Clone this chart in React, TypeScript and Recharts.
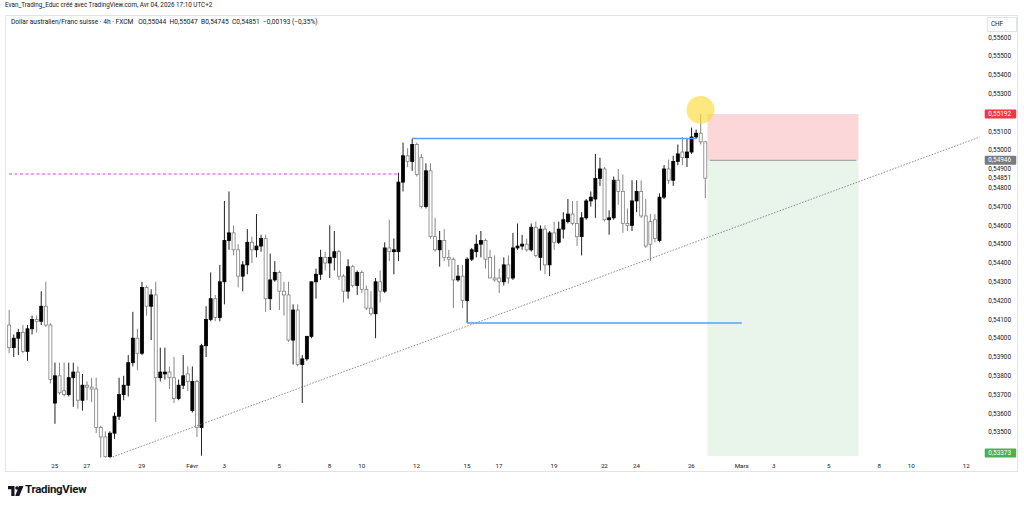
import React from 'react';
import {
  Bar,
  ComposedChart,
  ReferenceArea,
  ReferenceDot,
  ReferenceLine,
  XAxis,
  YAxis,
} from 'recharts';

// AUD/CHF 4h candles (oldest first)
const opens = [
  0.5407, 0.5395, 0.54, 0.5403, 0.5393, 0.5405, 0.541, 0.5409, 0.5417, 0.5407,
  0.53655, 0.538, 0.5372, 0.537, 0.5379, 0.5382, 0.5367, 0.5375, 0.5374, 0.5373,
  0.53525, 0.53475, 0.5337, 0.53495, 0.53585, 0.537, 0.5375, 0.5387, 0.54, 0.5392,
  0.5427, 0.5417, 0.5423, 0.5379, 0.5381, 0.5382, 0.5379, 0.5368, 0.5375, 0.5381,
  0.53615, 0.5377, 0.53525, 0.5396, 0.541, 0.5421, 0.5411, 0.543, 0.5452, 0.5456,
  0.5447, 0.5433, 0.5439, 0.5451, 0.5447, 0.5449, 0.5453, 0.5421, 0.5431, 0.5435,
  0.5425, 0.5423, 0.5399, 0.5415, 0.5386, 0.5389, 0.5401, 0.543, 0.5434, 0.5443,
  0.544, 0.5443, 0.5446, 0.5433, 0.5425, 0.5438, 0.5428, 0.5435, 0.5426, 0.5416,
  0.5413, 0.543, 0.5425, 0.5448, 0.5446, 0.5446, 0.5483, 0.5497, 0.5494, 0.5503,
  0.5496, 0.547, 0.5489, 0.5454, 0.5447, 0.5452, 0.5443, 0.5442, 0.5431, 0.5433,
  0.542, 0.5442, 0.5446, 0.545, 0.5452, 0.5443, 0.5432, 0.5432, 0.543, 0.5439,
  0.5432, 0.5448, 0.5449, 0.545, 0.5447, 0.5459, 0.5443, 0.5458, 0.5439, 0.5456,
  0.5451, 0.5458, 0.5462, 0.5466, 0.5461, 0.5454, 0.5464, 0.5473, 0.5474, 0.5485,
  0.549, 0.5463, 0.5464, 0.5484, 0.5478, 0.5461, 0.546, 0.5473, 0.5478, 0.5465,
  0.5462, 0.5463, 0.5452, 0.5475, 0.549, 0.5484, 0.5494, 0.5499, 0.5496, 0.5499,
  0.5507, 0.5509, 0.55044,
];
const highs = [
  0.5415, 0.5402, 0.5405, 0.5407, 0.5407, 0.5412, 0.5412, 0.5425, 0.543, 0.5408,
  0.5387, 0.5387, 0.5387, 0.5387, 0.5387, 0.5385, 0.5381, 0.5377, 0.5379, 0.5379,
  0.53535, 0.53505, 0.53505, 0.53605, 0.5379, 0.538, 0.5391, 0.5414, 0.5405, 0.543,
  0.5428, 0.5426, 0.543, 0.5395, 0.5395, 0.5385, 0.539, 0.5378, 0.5391, 0.5385,
  0.5385, 0.5378, 0.5397, 0.5417, 0.5435, 0.5423, 0.5439, 0.5473, 0.5478, 0.546,
  0.545, 0.5441, 0.5458, 0.5454, 0.5466, 0.5455, 0.5455, 0.5445, 0.5441, 0.5436,
  0.543, 0.543, 0.5418, 0.5418, 0.5391, 0.5401, 0.543, 0.5437, 0.5447, 0.5446,
  0.546, 0.5457, 0.5447, 0.5434, 0.5442, 0.5439, 0.5436, 0.5436, 0.5428, 0.5425,
  0.5432, 0.5436, 0.5451, 0.5463, 0.5453, 0.5488, 0.5504, 0.5501, 0.5506, 0.5504,
  0.5498, 0.5493, 0.5493, 0.5464, 0.5457, 0.5458, 0.5447, 0.5443, 0.5439, 0.5439,
  0.5443, 0.5448, 0.5455, 0.5457, 0.5453, 0.5447, 0.5444, 0.5437, 0.5443, 0.5444,
  0.5456, 0.5461, 0.5455, 0.5453, 0.5461, 0.5462, 0.546, 0.546, 0.5457, 0.5462,
  0.5462, 0.5467, 0.5474, 0.5473, 0.5473, 0.5467, 0.5474, 0.5478, 0.5498, 0.5496,
  0.5491, 0.5468, 0.5486, 0.549, 0.5487, 0.5469, 0.5484, 0.5484, 0.5484, 0.5474,
  0.5466, 0.5466, 0.5477, 0.5492, 0.5495, 0.5497, 0.5503, 0.5507, 0.5506, 0.5512,
  0.5511, 0.55192, 0.55047,
];
const lows = [
  0.5392, 0.539, 0.5391, 0.5392, 0.5388, 0.5402, 0.5403, 0.5407, 0.5406, 0.5376,
  0.53545, 0.537, 0.5369, 0.5369, 0.53635, 0.53625, 0.53615, 0.5367, 0.5366, 0.53495,
  0.53365, 0.53365, 0.53365, 0.53465, 0.53565, 0.5367, 0.5369, 0.5385, 0.5383, 0.5391,
  0.5412, 0.5399, 0.53555, 0.5377, 0.5378, 0.5373, 0.53655, 0.5367, 0.5373, 0.5372,
  0.53605, 0.53475, 0.53375, 0.539, 0.5409, 0.5409, 0.5409, 0.5418, 0.5447, 0.5444,
  0.5427, 0.5425, 0.5434, 0.544, 0.5443, 0.5446, 0.5414, 0.5415, 0.543, 0.5415,
  0.5412, 0.5398, 0.5386, 0.5385, 0.53655, 0.5388, 0.54, 0.5421, 0.5431, 0.5436,
  0.5432, 0.5436, 0.5431, 0.5419, 0.5421, 0.5427, 0.5423, 0.5424, 0.5415, 0.5412,
  0.54, 0.5419, 0.5424, 0.5441, 0.5434, 0.5441, 0.5478, 0.5491, 0.5489, 0.5486,
  0.5469, 0.5469, 0.5453, 0.5446, 0.5438, 0.5441, 0.5438, 0.5416, 0.543, 0.5416,
  0.5408, 0.5441, 0.5443, 0.5443, 0.5437, 0.5432, 0.543, 0.5424, 0.5428, 0.5429,
  0.5431, 0.5447, 0.5447, 0.5446, 0.5446, 0.5443, 0.5436, 0.5434, 0.5433, 0.5447,
  0.545, 0.5453, 0.5461, 0.546, 0.5449, 0.5444, 0.5463, 0.547, 0.5464, 0.5481,
  0.5462, 0.5455, 0.5463, 0.5471, 0.5456, 0.5457, 0.5457, 0.5467, 0.5464, 0.5448,
  0.5441, 0.5451, 0.5451, 0.5474, 0.5482, 0.5481, 0.5492, 0.5492, 0.5491, 0.5498,
  0.5506, 0.5503, 0.54745,
];
const closes = [
  0.5395, 0.54, 0.5403, 0.5393, 0.5405, 0.541, 0.5409, 0.5417, 0.5407, 0.5378,
  0.538, 0.5371, 0.537, 0.5379, 0.5382, 0.5367, 0.5375, 0.5374, 0.5373, 0.53525,
  0.53475, 0.5337, 0.53495, 0.53585, 0.537, 0.5375, 0.5387, 0.54, 0.5392, 0.5427,
  0.5417, 0.5423, 0.5379, 0.5382, 0.5382, 0.5379, 0.5368, 0.5375, 0.538, 0.5377,
  0.5377, 0.53525, 0.5396, 0.541, 0.5421, 0.5411, 0.543, 0.5452, 0.5456, 0.5447,
  0.5433, 0.5439, 0.5451, 0.5447, 0.5449, 0.5453, 0.5421, 0.5431, 0.5435, 0.5425,
  0.5423, 0.5399, 0.5415, 0.5386, 0.5389, 0.5401, 0.543, 0.5434, 0.5443, 0.544,
  0.5443, 0.5446, 0.5433, 0.5425, 0.5438, 0.5428, 0.5435, 0.5426, 0.5416, 0.5413,
  0.543, 0.5425, 0.5448, 0.5446, 0.5447, 0.5483, 0.5497, 0.5494, 0.5503, 0.5487,
  0.547, 0.5489, 0.5454, 0.5447, 0.5452, 0.5443, 0.5442, 0.5431, 0.5433, 0.542,
  0.5442, 0.5447, 0.545, 0.5452, 0.5442, 0.5432, 0.5431, 0.543, 0.5439, 0.5432,
  0.5448, 0.5449, 0.545, 0.5447, 0.5459, 0.5444, 0.5458, 0.5439, 0.5456, 0.5451,
  0.5458, 0.5463, 0.5466, 0.5461, 0.5454, 0.5464, 0.5473, 0.5475, 0.5485, 0.549,
  0.5463, 0.5464, 0.5484, 0.5478, 0.5461, 0.546, 0.5473, 0.5478, 0.5465, 0.5449,
  0.545, 0.5453, 0.5475, 0.549, 0.5484, 0.5494, 0.5498, 0.5496, 0.5499, 0.5507,
  0.5509, 0.55044, 0.54851,
];
// empty bars to the right (time axis runs on into March)
const futureSlots = 60;

const timeTickSlots = [11, 18, 30, 41, 48, 60, 71, 78, 90, 101, 108, 120, 131, 138, 150, 161, 168, 180, 191, 198, 210];
const timeTickLabels = ['25', '27', '29', 'Févr', '3', '5', '8', '10', '12', '15', '17', '19', '22', '24', '26', 'Mars', '3', '5', '8', '10', '12'];
const priceTicks = [
  0.534, 0.535, 0.536, 0.537, 0.538, 0.539, 0.54, 0.541, 0.542, 0.543, 0.544, 0.545,
  0.546, 0.547, 0.548, 0.549, 0.55, 0.551, 0.552, 0.553, 0.554, 0.555, 0.556,
];
const priceDomain = [0.53363, 0.557186];

// drawings
const stopPrice = 0.55192;
const entryPrice = 0.54946;
const targetPrice = 0.53373;
const lastPrice = 0.54851;
const positionSlots = [154, 186];
const pinkLevel = 0.54873;
const pinkSlots = [1, 86];
const topLevel = 0.55062;
const topSlots = [89, 151];
const bottomLevel = 0.54081;
const bottomSlots = [101, 161];
const trendSlots = [23, 213];
const trendPrices = [0.53363, 0.5507];
const circleSlot = 152;
const circlePrice = 0.55214;

const rows = Array.from({ length: opens.length + futureSlots }, (_, k) =>
  k < opens.length
    ? { i: k + 1, o: opens[k], h: highs[k], l: lows[k], c: closes[k] }
    : { i: k + 1 },
);

const FONT = 'Roboto, "Noto Sans", Arial, sans-serif';
const TEXT = '#131722';

const fmt = (v: number) => v.toFixed(5).replace('.', ',');

// scale labels that sit under the coloured stop / target tags are covered in the original
const coveredBy = [stopPrice, targetPrice];

function Candle(props: any) {
  const { x, y, width, height, payload } = props;
  if (payload == null || payload.o == null) return null;
  const { o, h, l, c } = payload;
  const top = Math.min(y, y + height);
  const span = Math.abs(height);
  const range = h - l || 1e-9;
  const py = (v: number) => top + ((h - v) / range) * span;
  const cx = x + width / 2;
  const up = c >= o;
  const bTop = py(Math.max(o, c));
  const bBot = py(Math.min(o, c));
  return (
    <g>
      <line x1={cx} x2={cx} y1={top} y2={top + span} stroke={up ? '#222' : '#858585'} strokeWidth={1} />
      <rect
        x={cx - 1.5}
        y={bTop}
        width={3}
        height={Math.max(bBot - bTop, 0.8)}
        fill={up ? '#000' : '#fff'}
        stroke={up ? '#000' : '#808080'}
        strokeWidth={0.8}
      />
    </g>
  );
}

function TimeTick({ x, y, payload }: any) {
  const idx = timeTickSlots.indexOf(payload.value);
  return (
    <text x={x} y={y + 2} textAnchor="middle" fontSize={6.2} fill={TEXT} fontFamily={FONT}>
      {timeTickLabels[idx]}
    </text>
  );
}

function PriceTick({ x, y, payload }: any) {
  if (coveredBy.some((p) => Math.abs(p - payload.value) < 0.0003)) return null;
  return (
    <text x={x - 2} y={y} dy={2.2} textAnchor="start" fontSize={6.4} fill={TEXT} fontFamily={FONT}>
      {fmt(payload.value)}
    </text>
  );
}

function PriceTag({ viewBox, text, bg, color, shift = 0 }: any) {
  if (!viewBox) return null;
  const right = viewBox.x + viewBox.width;
  const cy = viewBox.y + shift;
  return (
    <g>
      <rect x={right + 2.5} y={cy - 4.5} width={31.5} height={9} fill={bg} rx={1} />
      <text x={right + 6} y={cy} dy={2.2} fontSize={6.4} fill={color} fontFamily={FONT}>
        {text}
      </text>
    </g>
  );
}

export default function App() {
  return (
    <div style={{ position: 'relative', width: 1024, height: 507, background: '#fff', overflow: 'hidden', fontFamily: FONT }}>
      <style>{'body{margin:0}'}</style>
      <div
        style={{
          position: 'absolute',
          left: 5,
          top: 15,
          width: 1013,
          height: 457,
          border: '1px solid #e0e3eb',
          boxSizing: 'border-box',
        }}
      />
      <div style={{ position: 'absolute', left: 0, top: 0 }}>
        <ComposedChart width={1024} height={507} data={rows} margin={{ top: 15, right: 0, bottom: 34, left: 6.71 }}>
          <XAxis
            dataKey="i"
            type="category"
            ticks={timeTickSlots}
            interval={0}
            height={15}
            axisLine={false}
            tickLine={false}
            tick={<TimeTick />}
          />
          <YAxis
            orientation="right"
            type="number"
            domain={priceDomain}
            allowDataOverflow
            ticks={priceTicks}
            interval={0}
            width={41.8}
            axisLine={false}
            tickLine={false}
            tick={<PriceTick />}
          />
          <ReferenceArea
            x1={positionSlots[0]}
            x2={positionSlots[1]}
            y1={entryPrice}
            y2={stopPrice}
            fill="#f23645"
            fillOpacity={0.2}
            stroke="none"
          />
          <ReferenceArea
            x1={positionSlots[0]}
            x2={positionSlots[1]}
            y1={targetPrice}
            y2={entryPrice}
            fill="#4caf50"
            fillOpacity={0.12}
            stroke="none"
          />
          <ReferenceLine
            segment={[{ x: positionSlots[0], y: entryPrice }, { x: positionSlots[1], y: entryPrice }]}
            stroke="#9598a1"
            strokeWidth={1}
          />
          <ReferenceLine
            segment={[{ x: trendSlots[0], y: trendPrices[0] }, { x: trendSlots[1], y: trendPrices[1] }]}
            stroke="#6a6d78"
            strokeWidth={0.8}
            strokeDasharray="1.5 1.5"
          />
          <ReferenceLine
            segment={[{ x: pinkSlots[0], y: pinkLevel }, { x: pinkSlots[1], y: pinkLevel }]}
            stroke="#e040fb"
            strokeWidth={1}
            strokeDasharray="3 2.5"
          />
          <Bar dataKey={(d: any) => (d.o == null ? null : [d.l, d.h])} shape={<Candle />} isAnimationActive={false} />
          <ReferenceLine
            segment={[{ x: topSlots[0], y: topLevel }, { x: topSlots[1], y: topLevel }]}
            stroke="#5b9cf6"
            strokeWidth={1.4}
          />
          <ReferenceLine
            segment={[{ x: bottomSlots[0], y: bottomLevel }, { x: bottomSlots[1], y: bottomLevel }]}
            stroke="#5b9cf6"
            strokeWidth={1.4}
          />
          <ReferenceDot x={circleSlot} y={circlePrice} r={14} fill="#fbdc3a" fillOpacity={0.65} stroke="none" />
          <ReferenceLine y={stopPrice} stroke="none" label={<PriceTag text={fmt(stopPrice)} bg="#f23645" color="#fff" />} />
          <ReferenceLine y={entryPrice} stroke="none" label={<PriceTag text={fmt(entryPrice)} bg="#787b86" color="#fff" />} />
          <ReferenceLine y={lastPrice} stroke="none" label={<PriceTag text={fmt(lastPrice)} bg="#fff" color={TEXT} />} />
          <ReferenceLine
            y={targetPrice}
            stroke="none"
            label={<PriceTag text={fmt(targetPrice)} bg="#4caf50" color="#fff" shift={-3} />}
          />
        </ComposedChart>
      </div>
      <div style={{ position: 'absolute', left: 5, top: 1, fontSize: 6.3, color: TEXT, whiteSpace: 'pre' }}>
        Evan_Trading_Educ créé avec TradingView.com, Avr 04, 2026 17:10 UTC+2
      </div>
      <div style={{ position: 'absolute', left: 11, top: 18, fontSize: 6.6, color: TEXT, whiteSpace: 'pre' }}>
        {'Dollar australien/Franc suisse · 4h · FXCM   O0,55044  H0,55047  B0,54745  C0,54851  −0,00193 (−0,35%)'}
      </div>
      <div
        style={{
          position: 'absolute',
          left: 987,
          top: 17,
          width: 30,
          height: 15,
          border: '1px solid #e0e3eb',
          boxSizing: 'border-box',
          fontSize: 6.3,
          color: TEXT,
          lineHeight: '13px',
          paddingLeft: 3,
        }}
      >
        CHF
      </div>
      <svg style={{ position: 'absolute', left: 8, top: 486 }} width={16} height={11}>
        <path d="M0 0h6.5v10H3.3V3.2H0z" fill={TEXT} />
        <circle cx={9} cy={2} r={1.8} fill={TEXT} />
        <path d="M11 0h4.5l-4.2 10H7.2z" fill={TEXT} />
      </svg>
      <div
        style={{
          position: 'absolute',
          left: 25,
          top: 482,
          fontSize: 11.5,
          fontWeight: 700,
          color: TEXT,
          letterSpacing: -0.3,
        }}
      >
        TradingView
      </div>
    </div>
  );
}
